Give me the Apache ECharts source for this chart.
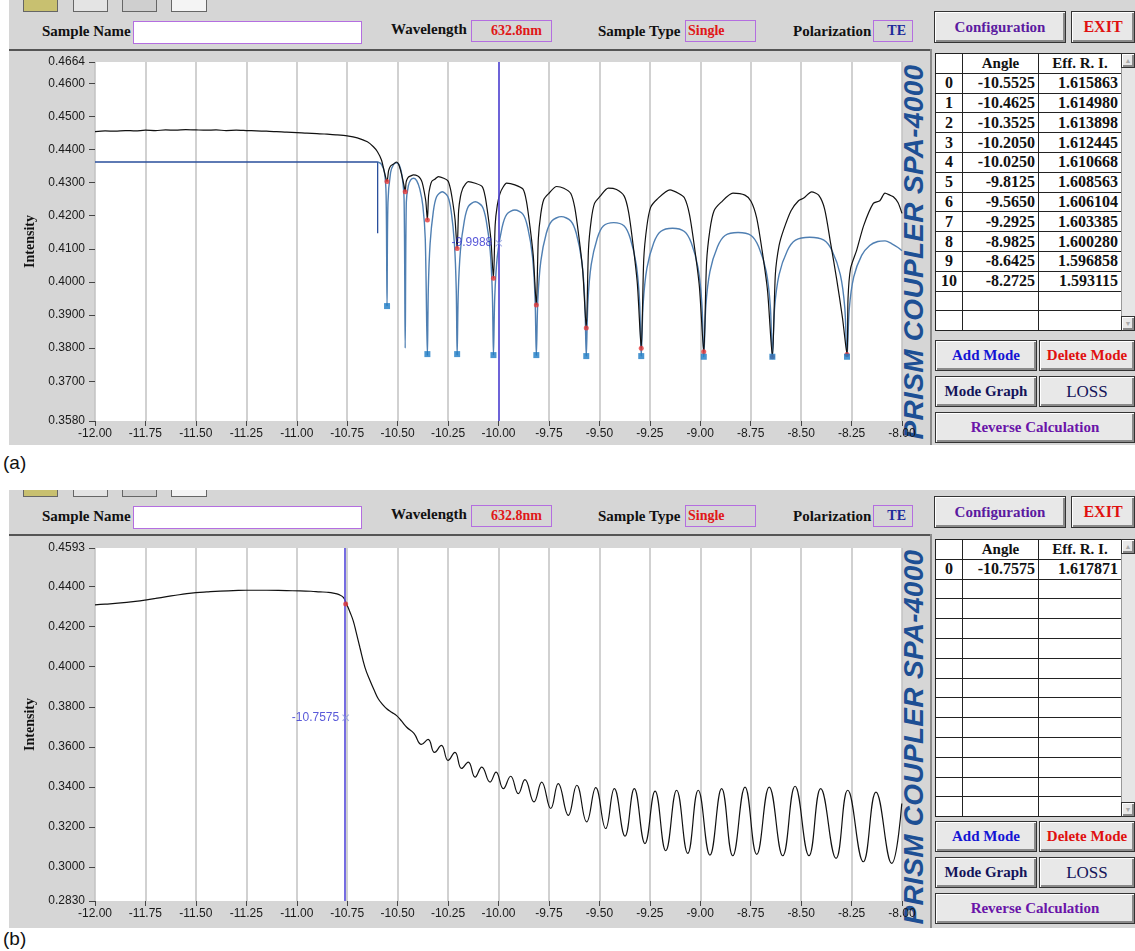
<!DOCTYPE html>
<html><head><meta charset="utf-8">
<script src="https://cdn.jsdelivr.net/npm/echarts@6/dist/echarts.min.js"></script>
<style>
body{margin:0;width:1135px;height:951px;position:relative;background:#fff;overflow:hidden;font-family:"Liberation Serif","DejaVu Serif",serif;}
.abs{position:absolute;box-sizing:border-box;}
.panel{background:#d6d6d6;overflow:hidden;}
.lbl{font-weight:bold;font-size:15px;color:#111;white-space:nowrap;line-height:18px;}
.vbox{border:1px solid #b46ee0;font-weight:bold;font-size:14px;line-height:20px;white-space:nowrap;}
.btn{background:#e8e8e8;border:1px solid #333;box-shadow:inset 1px 1px 0 #fff,inset -2px -2px 0 #8a8a8a;font-weight:bold;font-size:15px;display:flex;align-items:center;justify-content:center;white-space:nowrap;}
.icon{border:1px solid #666;background:#e4e4e4;}
table.grid{border-collapse:collapse;table-layout:fixed;background:#fff;}
table.grid td{border:1px solid #222;height:18.8px;padding:0 3px;font-weight:bold;font-size:16px;color:#111;white-space:nowrap;overflow:hidden;line-height:16px;}
.prism{font-family:"Liberation Sans",Arial,sans-serif;font-weight:bold;font-style:italic;font-size:28px;color:#1d4f94;letter-spacing:0.3px;text-align:center;line-height:30px;white-space:nowrap;transform:rotate(-90deg);}
.tag{font-family:"Liberation Sans",Arial,sans-serif;font-size:19px;color:#111;}
#chart{position:absolute;left:0;top:0;width:1135px;height:951px;z-index:5;}
</style></head><body>
<div id="ui"></div>
<div id="chart"></div>
<script>
// ---------------- DATA ----------------
const xTicks = [-12,-11.75,-11.5,-11.25,-11,-10.75,-10.5,-10.25,-10,-9.75,-9.5,-9.25,-9,-8.75,-8.5,-8.25,-8];
const yTicksA = [0.358,0.37,0.38,0.39,0.40,0.41,0.42,0.43,0.44,0.45,0.46,0.4664];
const yTicksB = [0.283,0.30,0.32,0.34,0.36,0.38,0.40,0.42,0.44,0.4593];

// panel (a): measured intensity curve
const measuredAngleA = [
-12.00,-11.95,-11.90,-11.85,-11.80,-11.75,-11.70,-11.65,-11.60,-11.55,-11.50,-11.45,-11.40,-11.35,-11.30,-11.25,-11.20,-11.15,-11.10,-11.05,-11.00,-10.95,-10.90,-10.85,-10.80,-10.75,-10.70,-10.65,-10.62,-10.60,-10.58,-10.565,-10.5525,
-10.545,-10.535,-10.52,-10.505,-10.495,-10.485,-10.475,-10.468,-10.4625,
-10.458,-10.4526,-10.446,-10.435,-10.422,-10.40,-10.387,-10.378,-10.369,-10.36,-10.3525,
-10.3466,-10.3392,-10.3304,-10.3156,-10.298,-10.2714,-10.2507,-10.239,-10.2271,-10.2153,-10.205,
-10.1978,-10.1888,-10.178,-10.1654,-10.15,-10.115,-10.0808,-10.0664,-10.052,-10.0376,-10.025,
-10.0165,-10.0059,-9.9931,-9.9783,-9.96,-9.9188,-9.8784,-9.8614,-9.8444,-9.8274,-9.8125,
-9.8026,-9.7902,-9.7754,-9.7506,-9.712,-9.6764,-9.6417,-9.6219,-9.6021,-9.5823,-9.565,
-9.5541,-9.5405,-9.5241,-9.4969,-9.456,-9.4151,-9.377,-9.3552,-9.3334,-9.3116,-9.2925,
-9.2801,-9.2646,-9.246,-9.215,-9.15,-9.1065,-9.0786,-9.0538,-9.029,-9.0042,-8.9825,
-8.9689,-8.9519,-8.9315,-8.8975,-8.838,-8.7785,-8.7479,-8.7207,-8.6935,-8.6663,-8.6425,
-8.6277,-8.6092,-8.587,-8.55,-8.513,-8.4871,-8.448,-8.4131,-8.3835,-8.3539,-8.3243,-8.2947,-8.2725,
-8.2675,-8.255,-8.2245,-8.19,-8.1423,-8.11,-8.0843,-8.06,-8.043,-8.02,-8.00];
const measuredIntA = [
0.4454,0.4456,0.4455,0.4457,0.4456,0.4458,0.4457,0.4459,0.4458,0.4460,0.4459,0.4458,0.4459,0.4457,0.4458,0.4457,0.4456,0.4455,0.4454,0.4452,0.4451,0.4449,0.4448,0.4446,0.4444,0.4441,0.4435,0.4423,0.4408,0.4393,0.4368,0.4330,0.4303,
0.4335,0.4350,0.4356,0.4362,0.4355,0.4336,0.4310,0.4290,0.4272,
0.4301,0.4311,0.4317,0.4320,0.4323,0.4320,0.4312,0.4300,0.4275,0.4242,0.4187,
0.4260,0.4288,0.4304,0.4310,0.4318,0.4313,0.4305,0.4283,0.4242,0.4188,0.4101,
0.4214,0.4257,0.4281,0.4294,0.4303,0.4298,0.4288,0.4259,0.4201,0.4128,0.4011,
0.4172,0.4232,0.4266,0.4285,0.4298,0.4293,0.4280,0.4243,0.4169,0.4077,0.3930,
0.4130,0.4206,0.4249,0.4267,0.4288,0.4283,0.4267,0.4224,0.4139,0.4032,0.3861,
0.4097,0.4186,0.4237,0.4258,0.4283,0.4279,0.4259,0.4211,0.4114,0.3993,0.3800,
0.4068,0.4168,0.4225,0.4249,0.4278,0.4267,0.4254,0.4205,0.4107,0.3985,0.3789,
0.4057,0.4158,0.4215,0.4240,0.4268,0.4262,0.4243,0.4194,0.4095,0.3972,0.3774,
0.4023,0.4110,0.4157,0.4215,0.4245,0.4253,0.4272,0.4262,0.4220,0.4117,0.4010,0.3890,0.3781,
0.3950,0.4040,0.4096,0.4170,0.4237,0.4245,0.4268,0.4262,0.4257,0.4240,0.4207];

// panel (a): fitted curve
const fitAngleA = [
-10.598,-10.58,-10.565,-10.557,-10.5525,-10.548,-10.535,-10.52,-10.505,-10.49,-10.478,-10.468,-10.4625,-10.457,-10.447,-10.435,-10.42,-10.405,-10.39,-10.375,-10.363,-10.3525,
-10.348,-10.3392,-10.323,-10.3068,-10.2788,-10.2508,-10.2345,-10.2183,-10.2094,-10.205,
-10.1996,-10.1888,-10.169,-10.1492,-10.115,-10.0808,-10.061,-10.0412,-10.0304,-10.025,
-10.0186,-10.0059,-9.9825,-9.9591,-9.9188,-9.8784,-9.855,-9.8316,-9.8189,-9.8125,
-9.8051,-9.7902,-9.763,-9.7358,-9.6888,-9.6417,-9.6145,-9.5873,-9.5724,-9.565,
-9.5568,-9.5405,-9.5105,-9.4805,-9.4288,-9.377,-9.347,-9.317,-9.3007,-9.2925,
-9.2832,-9.2646,-9.2305,-9.1964,-9.1375,-9.0786,-9.0445,-9.0104,-8.9918,-8.9825,
-8.9723,-8.9519,-8.9145,-8.8771,-8.8125,-8.7479,-8.7105,-8.6731,-8.6527,-8.6425,
-8.6314,-8.6092,-8.5685,-8.5278,-8.4575,-8.3872,-8.3465,-8.3058,-8.2836,-8.2725,
-8.2614,-8.2392,-8.20,-8.16,-8.12,-8.084,-8.05,-8.02,-8.00];
const fitIntA = [
0.4362,0.4355,0.4330,0.4260,0.3927,0.4240,0.4330,0.4355,0.4360,0.4350,0.4320,0.4250,0.3800,0.4240,0.4290,0.4308,0.4313,0.4305,0.4280,0.4230,0.4130,0.3778,
0.3976,0.4114,0.4213,0.4257,0.4272,0.4257,0.4213,0.4114,0.3976,0.3779,
0.3964,0.4094,0.4186,0.4228,0.4242,0.4228,0.4186,0.4094,0.3964,0.3779,
0.3954,0.4077,0.4164,0.4204,0.4217,0.4204,0.4164,0.4077,0.3954,0.3778,
0.3946,0.4063,0.4147,0.4184,0.4197,0.4184,0.4147,0.4063,0.3946,0.3776,
0.3939,0.4052,0.4132,0.4169,0.4179,0.4169,0.4132,0.4052,0.3939,0.3776,
0.3932,0.4041,0.4118,0.4152,0.4162,0.4152,0.4118,0.4041,0.3932,0.3774,
0.3927,0.4032,0.4106,0.4140,0.4149,0.4140,0.4106,0.4032,0.3927,0.3774,
0.3922,0.4022,0.4094,0.4126,0.4135,0.4126,0.4094,0.4022,0.3922,0.3774,
0.3918,0.4015,0.4080,0.4110,0.4122,0.4124,0.4115,0.4104,0.4094];

// panel (a): reference level line
const refAngleA = [-12, -10.599, -10.599];
const refIntA = [0.4362, 0.4362, 0.4147];

// panel (a): modes table + markers
const modeIndexA = [0,1,2,3,4,5,6,7,8,9,10];
const modeAngleA = [-10.5525,-10.4625,-10.3525,-10.2050,-10.0250,-9.8125,-9.5650,-9.2925,-8.9825,-8.6425,-8.2725];
const modeEffA = [1.615863,1.614980,1.613898,1.612445,1.610668,1.608563,1.606104,1.603385,1.600280,1.596858,1.593115];
const minIntA = [0.4303,0.4272,0.4187,0.4101,0.4011,0.3930,0.3861,0.3800,0.3789,0.3774,0.3781];
const squareAngleA = [-10.5525,-10.3525,-10.2050,-10.0250,-9.8125,-9.5650,-9.2925,-8.9825,-8.6425,-8.2725];
const squareIntA = [0.3927,0.3782,0.3782,0.3779,0.3779,0.3776,0.3776,0.3774,0.3774,0.3774];
const cursorAngleA = -9.9988;
const cursorIntA = 0.4117;

// panel (b): measured curve
const measuredAngleB = [
-12.00,-11.95,-11.90,-11.843,-11.80,-11.744,-11.70,-11.645,-11.60,-11.545,-11.50,-11.446,-11.38,-11.315,-11.25,-11.149,-11.05,-10.984,-10.93,-10.885,-10.85,-10.819,-10.79,-10.769,-10.753,-10.735,-10.72,-10.705,-10.687,-10.662,-10.637,-10.615,-10.596,-10.575,-10.554,-10.53,-10.505,-10.48,-10.455,-10.419,
-10.382,-10.349,-10.317,-10.283,-10.250,-10.216,-10.183,-10.150,-10.116,-10.083,-10.042,-10.012,-9.976,-9.940,-9.902,-9.869,-9.824,-9.786,-9.741,-9.704,-9.654,-9.612,-9.563,-9.518,-9.469,-9.426,-9.373,-9.327,-9.274,-9.224,-9.171,-9.117,-9.062,-9.010,-8.952,-8.894,-8.839,-8.778,-8.720,-8.658,-8.591,-8.530,-8.461,-8.403,-8.327,-8.269,-8.192,-8.129,-8.051,-8.001];
const measuredIntB = [
0.4309,0.4313,0.4316,0.4321,0.4326,0.4334,0.4341,0.4350,0.4357,0.4365,0.4370,0.4374,0.4378,0.4380,0.4382,0.4382,0.4380,0.4379,0.4377,0.4374,0.4372,0.4368,0.4360,0.4346,0.4313,0.4270,0.4229,0.4170,0.4096,0.3997,0.3931,0.3880,0.3840,0.3812,0.3790,0.3773,0.3756,0.3728,0.3698,0.3667,
0.3612,0.3637,0.3572,0.3607,0.3532,0.3572,0.3492,0.3524,0.3449,0.3499,0.3424,0.3474,0.3391,0.3453,0.3366,0.3436,0.3325,0.3424,0.3292,0.3416,0.3258,0.3408,0.3225,0.3396,0.3192,0.3391,0.3154,0.3391,0.3117,0.3379,0.3081,0.3383,0.3068,0.3383,0.3059,0.3391,0.3056,0.3399,0.3063,0.3399,0.3056,0.3403,0.3056,0.3391,0.3043,0.3383,0.3026,0.3374,0.3018,0.3317];

const modeIndexB = [0];
const modeAngleB = [-10.7575];
const modeEffB = [1.617871];
const minIntB = [0.4313];
const cursorAngleB = -10.7575;
const cursorIntB = 0.3745;

// ---------------- UI (layout) ----------------
const zip = (xs, ys) => xs.map((x, i) => [x, ys[i]]);
const ui = document.getElementById('ui');
function el(cls, l, t, w, h, html, style, parent) {
  const d = document.createElement('div');
  d.className = 'abs ' + cls;
  d.style.left = l + 'px'; d.style.top = t + 'px';
  if (w != null) d.style.width = w + 'px';
  if (h != null) d.style.height = h + 'px';
  if (html != null) d.innerHTML = html;
  if (style) Object.assign(d.style, style);
  (parent || ui).appendChild(d);
  return d;
}
function table(top, idx, ang, eff) {
  let h = '<table class="grid" style="width:186px"><colgroup><col style="width:27px"><col style="width:76px"><col style="width:83px"></colgroup>';
  h += '<tr><td></td><td style="text-align:center;font-size:15px">Angle</td><td style="text-align:center;font-size:15px">Eff. R. I.</td></tr>';
  for (let r = 0; r < 13; r++) {
    const has = r < idx.length;
    h += '<tr><td style="text-align:center">' + (has ? idx[r] : '') + '</td><td style="text-align:right">' +
      (has ? ang[r].toFixed(4) : '') + '</td><td style="text-align:right">' + (has ? eff[r].toFixed(6) : '') + '</td></tr>';
  }
  h += '</table>';
  el('', 935, top, 186, 278, h, {background:'#fff'});
  el('', 1121, top, 14, 278, '', {background:'#e6e6e6', borderLeft:'1px solid #999'});
  el('btn', 1121, top, 14, 15, '<span style="font-size:7px;color:#aaa">&#9650;</span>', {});
  el('btn', 1121, top + 263, 14, 15, '<span style="font-size:7px;color:#aaa">&#9660;</span>', {});
}
function panel(top, height, hdr, tblTop, btnTop, prismCy, idx, ang, eff) {
  const p = el('panel', 9, top, 1126, height, '', {});
  // toolbar icons (clipped by the panel)
  const icy = hdr - 33 - top;
  el('icon', 14, icy, 35, 14, '', {background:'#c8c070'}, p);
  el('icon', 64, icy, 35, 14, '', {}, p);
  el('icon', 113, icy, 35, 14, '', {background:'#cfcfcf'}, p);
  el('icon', 162, icy, 36, 14, '', {background:'#f4f4f4'}, p);
  // header
  el('lbl', 42, hdr - 9, null, null, 'Sample Name');
  el('vbox', 133, hdr - 10, 229, 23, '', {background:'#fff'});
  el('lbl', 391, hdr - 11, null, null, 'Wavelength');
  el('vbox', 471, hdr - 11, 81, 22, '632.8nm', {color:'#e01818', textAlign:'right', paddingRight:'9px'});
  el('lbl', 598, hdr - 9, null, null, 'Sample Type');
  el('vbox', 685, hdr - 11, 71, 22, 'Single', {color:'#e01818', paddingLeft:'2px'});
  el('lbl', 793, hdr - 9, null, null, 'Polarization');
  el('vbox', 873, hdr - 11, 40, 22, 'TE', {color:'#1d2a9a', textAlign:'right', paddingRight:'6px'});
  el('btn', 934, hdr - 20, 132, 32, 'Configuration', {color:'#5b1aa0'});
  el('btn', 1071, hdr - 20, 64, 32, 'EXIT', {color:'#e01010', fontSize:'16px'});
  // separators
  el('', 9, hdr + 18, 921, 2, '', {background:'#555'});
  el('', 930, hdr + 18, 2, top + height - hdr - 18, '', {background:'#8a8a8a'});
  // prism text
  el('prism', 914 - 195, prismCy - 15, 390, 30, 'PRISM COUPLER SPA-4000');
  table(tblTop, idx, ang, eff);
  el('btn', 935, btnTop, 102, 31, 'Add Mode', {color:'#1414d4'});
  el('btn', 1039, btnTop, 96, 31, 'Delete Mode', {color:'#e01010'});
  el('btn', 935, btnTop + 36, 102, 31, 'Mode Graph', {color:'#14145a'});
  el('btn', 1039, btnTop + 36, 96, 31, 'LOSS', {color:'#14145a', fontWeight:'normal', fontSize:'17px'});
  el('btn', 935, btnTop + 72, 200, 31, 'Reverse Calculation', {color:'#6a14a8'});
}
panel(0, 445, 31, 53, 340, 252, modeIndexA, modeAngleA, modeEffA);
panel(490, 438, 516, 539, 821, 737, modeIndexB, modeAngleB, modeEffB);
el('tag', 3, 452, null, null, '(a)');
el('tag', 3, 928, null, null, '(b)');

// ---------------- CHART ----------------
const chart = echarts.init(document.getElementById('chart'), null, {renderer:'canvas'});
const axisFont = {fontFamily:'"Liberation Sans", Arial, sans-serif', fontSize:12, color:'#1a1a1a'};
function xAxisFor(gi) {
  return {type:'value', gridIndex:gi, min:xTicks[0], max:xTicks[xTicks.length - 1], interval:0.25,
    axisLine:{show:false}, axisTick:{show:true, length:5, lineStyle:{color:'#444'}},
    axisLabel:Object.assign({}, axisFont, {margin:7, formatter:v => v.toFixed(2)}),
    splitLine:{show:true, lineStyle:{color:'#c2c2c2', width:1.5}}};
}
function yAxisFor(gi, ticks) {
  return {type:'value', gridIndex:gi, min:ticks[0], max:ticks[ticks.length - 1],
    name:'Intensity', nameLocation:'middle', nameGap:53, nameRotate:90,
    nameTextStyle:{fontFamily:'"Liberation Serif", serif', fontWeight:'bold', fontSize:14, color:'#111'},
    axisLine:{show:false}, splitLine:{show:false},
    axisTick:{show:true, length:6, customValues:ticks, lineStyle:{color:'#444'}},
    axisLabel:Object.assign({}, axisFont, {margin:10, customValues:ticks, formatter:v => v.toFixed(4)})};
}
const xMark = 'path://M0,1L1,0L5,4L9,0L10,1L6,5L10,9L9,10L5,6L1,10L0,9L4,5Z';
function cursorSeries(gi, ang, val) {
  return {type:'scatter', xAxisIndex:gi, yAxisIndex:gi, data:[[ang, val]], symbol:xMark, symbolSize:7,
    itemStyle:{color:'#8a98dc'}, z:10,
    label:{show:true, position:'left', distance:3, formatter:ang.toFixed(4), color:'#2f2fcf',
      fontFamily:'"Liberation Sans", Arial, sans-serif', fontSize:12}};
}
function cursorLine(ang) {
  return {silent:true, symbol:['none','none'], label:{show:false}, animation:false,
    lineStyle:{color:'#5448da', width:1.6, type:'solid'}, data:[{xAxis:ang}]};
}
chart.setOption({
  animation:false,
  backgroundColor:'transparent',
  grid:[
    {left:95, top:62, width:807, height:359, show:true, backgroundColor:'#fff', borderWidth:0},
    {left:95, top:548, width:807, height:353, show:true, backgroundColor:'#fff', borderWidth:0}
  ],
  xAxis:[xAxisFor(0), xAxisFor(1)],
  yAxis:[yAxisFor(0, yTicksA), yAxisFor(1, yTicksB)],
  series:[
    {type:'line', xAxisIndex:0, yAxisIndex:0, data:zip(refAngleA, refIntA), symbol:'none',
      lineStyle:{color:'#2a4f9c', width:1.3}, z:2},
    {type:'line', xAxisIndex:0, yAxisIndex:0, data:zip(fitAngleA, fitIntA), symbol:'none', smooth:0.3,
      lineStyle:{color:'#4f7fb2', width:1.4}, z:3},
    {type:'line', xAxisIndex:0, yAxisIndex:0, data:zip(measuredAngleA, measuredIntA), symbol:'none', smooth:0.25,
      lineStyle:{color:'#111', width:1.2}, z:4, markLine:cursorLine(cursorAngleA)},
    {type:'scatter', xAxisIndex:0, yAxisIndex:0, data:zip(modeAngleA, minIntA), symbol:'circle', symbolSize:5,
      itemStyle:{color:'#e63838'}, z:6},
    {type:'scatter', xAxisIndex:0, yAxisIndex:0, data:zip(squareAngleA, squareIntA), symbol:'rect', symbolSize:6,
      itemStyle:{color:'#1c7ac4'}, z:7},
    cursorSeries(0, cursorAngleA, cursorIntA),
    {type:'line', xAxisIndex:1, yAxisIndex:1, data:zip(measuredAngleB, measuredIntB), symbol:'none', smooth:0.45,
      lineStyle:{color:'#111', width:1.2}, z:4, markLine:cursorLine(cursorAngleB)},
    {type:'scatter', xAxisIndex:1, yAxisIndex:1, data:zip(modeAngleB, minIntB), symbol:'circle', symbolSize:5,
      itemStyle:{color:'#e63838'}, z:6},
    cursorSeries(1, cursorAngleB, cursorIntB)
  ]
});
</script>
</body></html>
